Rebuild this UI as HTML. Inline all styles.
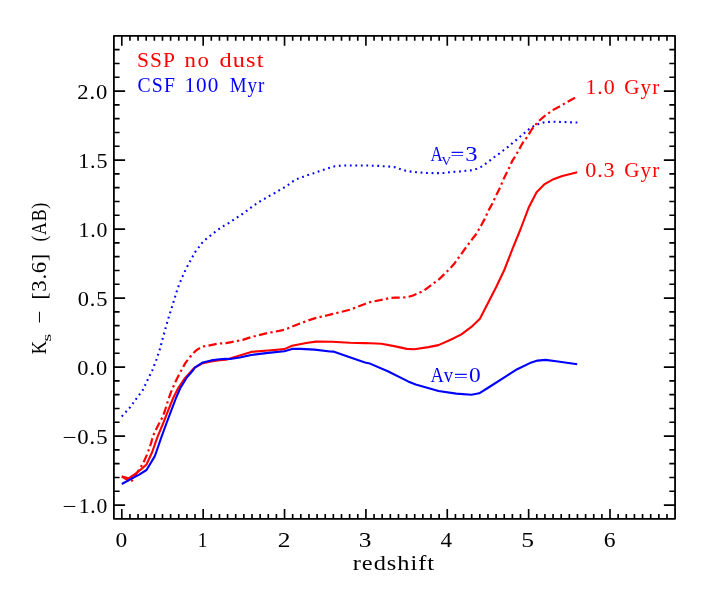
<!DOCTYPE html>
<html>
<head>
<meta charset="utf-8">
<title>Ks - [3.6] vs redshift</title>
<style>
html,body{margin:0;padding:0;background:#fff;}
body{width:709px;height:591px;overflow:hidden;}
svg{display:block;will-change:transform;}
text{font-family:"Liberation Serif",serif;font-size:20.0px;fill:#000;}
.r{fill:#f00;}
.b{fill:#00f;}
</style>
</head>
<body>
<svg width="709" height="591" viewBox="0 0 709 591">
<rect x="0" y="0" width="709" height="591" fill="#fff"/>
<g fill="none" stroke-linejoin="round">
<path d="M121.8 416.5 L130.0 407.4 L136.1 399.0 L142.7 390.2 L147.6 380.0 L152.3 370.4 L156.4 359.6 L159.8 349.4 L162.5 339.3 L165.5 328.4 L168.6 317.6 L172.0 306.8 L173.6 301.6 L176.7 291.5 L178.6 286.1 L180.6 281.1 L182.7 276.2 L185.1 270.9 L187.5 266.0 L190.1 261.3 L192.8 256.3 L195.5 251.6 L198.9 247.1 L202.0 242.9 L206.0 239.1 L210.4 235.6 L214.8 232.2 L219.2 228.8 L223.9 225.8 L228.7 223.1 L233.1 220.1 L237.8 217.0 L242.4 214.0 L247.0 210.6 L251.2 207.4 L255.8 204.1 L260.4 201.2 L265.2 198.4 L269.8 195.7 L274.8 193.0 L279.4 190.2 L284.3 187.3 L288.9 184.3 L293.1 181.2 L298.1 178.6 L303.3 176.7 L308.7 174.8 L313.7 173.2 L319.0 171.3 L324.3 169.5 L329.7 167.8 L334.7 166.3 L340.1 165.7 L345.9 165.5 L356.9 165.5 L368.0 165.5 L373.6 165.8 L379.1 165.9 L384.4 166.3 L389.8 166.6 L395.1 167.3 L400.3 169.1 L405.6 170.7 L410.9 171.6 L416.4 172.2 L422.1 172.6 L427.4 173.0 L433.5 173.1 L438.8 173.1 L444.1 172.9 L449.5 172.2 L454.9 171.8 L460.3 171.4 L465.7 170.8 L471.4 170.2 L476.8 168.8 L482.0 166.4 L486.7 163.0 L490.7 159.9 L495.1 156.5 L499.5 153.4 L503.9 150.0 L508.3 146.6 L512.3 143.2 L516.7 139.6 L520.9 136.0 L525.2 132.4 L529.5 128.7 L534.7 125.6 L539.4 123.6 L544.8 122.2 L550.3 121.8 L555.7 121.8 L566.5 122.1 L571.9 122.4 L577.3 122.5" stroke="#00f" stroke-width="2.1" stroke-dasharray="1.8 3.7"/>
<path d="M121.8 476.5 L131.0 482.2 L138.1 471.0 L141.4 465.8 L144.5 460.4 L147.5 453.3 L151.1 443.2 L152.6 437.1 L154.4 432.8 L157.4 426.7 L162.5 417.1 L165.0 410.5 L168.1 400.3 L170.6 393.2 L172.4 388.8 L174.4 384.1 L176.7 379.2 L180.0 372.8 L182.5 368.2 L185.3 363.1 L189.4 357.8 L192.7 353.8 L196.8 349.9 L202.6 346.6 L207.8 345.7 L213.3 344.6 L218.0 343.6 L226.0 343.1 L230.0 342.3 L242.7 339.9 L251.2 337.1 L268.1 332.9 L284.3 329.9 L294.2 325.8 L306.9 320.9 L315.3 318.1 L327.6 315.2 L332.0 314.1 L349.8 309.8 L365.0 304.0 L370.0 302.2 L382.7 299.6 L390.0 298.0 L395.4 297.7 L400.8 297.6 L406.9 297.3 L413.0 295.5 L418.4 293.2 L424.5 290.2 L428.6 287.1 L433.3 283.5 L439.4 279.0 L442.8 275.6 L446.9 271.6 L450.9 267.5 L454.7 263.2 L458.4 258.0 L461.8 253.3 L465.2 248.5 L469.2 243.1 L473.3 237.7 L475.9 234.5 L479.9 227.7 L484.7 218.9 L488.7 210.1 L492.5 203.3 L496.2 195.2 L500.3 187.1 L503.6 179.0 L507.7 170.8 L510.7 164.6 L512.3 160.8 L515.7 155.7 L518.4 150.7 L522.5 143.2 L524.9 140.2 L527.9 135.8 L532.0 129.0 L538.1 121.6 L544.2 116.4 L548.0 113.7 L551.6 110.7 L559.1 106.7 L563.1 104.4 L567.2 101.9 L574.6 98.1 L577.2 96.8" stroke="#f00" stroke-width="2.2" stroke-dasharray="8.3 3.324 2.3 3.324"/>
<path d="M121.8 476.5 L128.7 478.3 L136.3 473.2 L142.4 468.1 L146.5 464.5 L152.2 452.0 L157.4 437.2 L163.3 423.0 L168.2 410.4 L173.2 398.0 L178.1 388.3 L184.9 378.2 L192.6 369.6 L194.5 367.9 L202.8 363.2 L211.2 361.4 L219.4 360.3 L226.0 359.7 L230.0 358.5 L251.2 351.9 L268.1 350.5 L284.3 349.1 L292.1 345.8 L306.2 343.0 L316.0 341.6 L332.0 341.8 L349.8 342.8 L365.0 343.1 L370.0 343.3 L381.4 343.8 L395.4 346.4 L406.8 348.9 L414.4 349.2 L428.4 347.1 L438.5 345.1 L451.2 339.5 L461.4 334.4 L471.4 326.9 L479.9 318.8 L488.0 302.9 L496.2 287.0 L504.3 270.0 L512.4 249.2 L520.6 229.0 L528.7 207.6 L536.6 192.2 L544.7 184.1 L553.5 179.2 L562.3 176.0 L570.4 173.9 L577.2 172.2" stroke="#f00" stroke-width="2.1"/>
<path d="M121.8 484.0 L131.2 478.8 L138.8 474.9 L146.5 470.0 L154.7 456.4 L156.3 452.0 L161.4 437.2 L166.2 424.0 L171.3 410.4 L176.2 397.5 L180.2 388.3 L186.4 378.2 L193.2 370.0 L194.7 367.7 L202.8 362.4 L211.2 360.4 L219.4 359.2 L226.0 358.9 L230.0 359.0 L239.9 357.5 L251.2 355.0 L268.1 352.9 L284.3 351.2 L292.1 348.9 L300.5 348.9 L314.6 349.6 L330.0 351.5 L333.3 351.6 L349.8 357.3 L365.0 362.4 L370.0 363.6 L387.8 371.2 L408.1 381.4 L415.7 384.4 L438.5 391.0 L456.3 393.6 L471.5 394.8 L479.2 393.3 L489.3 387.0 L502.0 378.9 L517.2 369.2 L529.9 363.1 L537.6 360.6 L545.5 359.9 L556.2 361.2 L566.8 362.7 L577.2 364.3" stroke="#00f" stroke-width="2.1"/>
</g>
<path d="M129.94 518.85v-4.80M129.94 35.90v4.80M138.07 518.85v-4.80M138.07 35.90v4.80M146.21 518.85v-4.80M146.21 35.90v4.80M154.35 518.85v-4.80M154.35 35.90v4.80M162.49 518.85v-4.80M162.49 35.90v4.80M170.62 518.85v-4.80M170.62 35.90v4.80M178.76 518.85v-4.80M178.76 35.90v4.80M186.90 518.85v-4.80M186.90 35.90v4.80M195.03 518.85v-4.80M195.03 35.90v4.80M203.17 518.85v-9.80M203.17 35.90v9.80M211.31 518.85v-4.80M211.31 35.90v4.80M219.44 518.85v-4.80M219.44 35.90v4.80M227.58 518.85v-4.80M227.58 35.90v4.80M235.72 518.85v-4.80M235.72 35.90v4.80M243.86 518.85v-4.80M243.86 35.90v4.80M251.99 518.85v-4.80M251.99 35.90v4.80M260.13 518.85v-4.80M260.13 35.90v4.80M268.27 518.85v-4.80M268.27 35.90v4.80M276.40 518.85v-4.80M276.40 35.90v4.80M284.54 518.85v-9.80M284.54 35.90v9.80M292.68 518.85v-4.80M292.68 35.90v4.80M300.81 518.85v-4.80M300.81 35.90v4.80M308.95 518.85v-4.80M308.95 35.90v4.80M317.09 518.85v-4.80M317.09 35.90v4.80M325.23 518.85v-4.80M325.23 35.90v4.80M333.36 518.85v-4.80M333.36 35.90v4.80M341.50 518.85v-4.80M341.50 35.90v4.80M349.64 518.85v-4.80M349.64 35.90v4.80M357.77 518.85v-4.80M357.77 35.90v4.80M365.91 518.85v-9.80M365.91 35.90v9.80M374.05 518.85v-4.80M374.05 35.90v4.80M382.18 518.85v-4.80M382.18 35.90v4.80M390.32 518.85v-4.80M390.32 35.90v4.80M398.46 518.85v-4.80M398.46 35.90v4.80M406.60 518.85v-4.80M406.60 35.90v4.80M414.73 518.85v-4.80M414.73 35.90v4.80M422.87 518.85v-4.80M422.87 35.90v4.80M431.01 518.85v-4.80M431.01 35.90v4.80M439.14 518.85v-4.80M439.14 35.90v4.80M447.28 518.85v-9.80M447.28 35.90v9.80M455.42 518.85v-4.80M455.42 35.90v4.80M463.55 518.85v-4.80M463.55 35.90v4.80M471.69 518.85v-4.80M471.69 35.90v4.80M479.83 518.85v-4.80M479.83 35.90v4.80M487.97 518.85v-4.80M487.97 35.90v4.80M496.10 518.85v-4.80M496.10 35.90v4.80M504.24 518.85v-4.80M504.24 35.90v4.80M512.38 518.85v-4.80M512.38 35.90v4.80M520.51 518.85v-4.80M520.51 35.90v4.80M528.65 518.85v-9.80M528.65 35.90v9.80M536.79 518.85v-4.80M536.79 35.90v4.80M544.92 518.85v-4.80M544.92 35.90v4.80M553.06 518.85v-4.80M553.06 35.90v4.80M561.20 518.85v-4.80M561.20 35.90v4.80M569.34 518.85v-4.80M569.34 35.90v4.80M577.47 518.85v-4.80M577.47 35.90v4.80M585.61 518.85v-4.80M585.61 35.90v4.80M593.75 518.85v-4.80M593.75 35.90v4.80M601.88 518.85v-4.80M601.88 35.90v4.80M610.02 518.85v-9.80M610.02 35.90v9.80M618.16 518.85v-4.80M618.16 35.90v4.80M626.29 518.85v-4.80M626.29 35.90v4.80M634.43 518.85v-4.80M634.43 35.90v4.80M642.57 518.85v-4.80M642.57 35.90v4.80M650.70 518.85v-4.80M650.70 35.90v4.80M658.84 518.85v-4.80M658.84 35.90v4.80M666.98 518.85v-4.80M666.98 35.90v4.80M121.80 518.85v-9.80M121.80 35.90v9.80M113.90 505.05h11.20M675.05 505.05h-11.20M113.90 491.25h5.70M675.05 491.25h-5.70M113.90 477.45h5.70M675.05 477.45h-5.70M113.90 463.65h5.70M675.05 463.65h-5.70M113.90 449.85h5.70M675.05 449.85h-5.70M113.90 436.05h11.20M675.05 436.05h-11.20M113.90 422.25h5.70M675.05 422.25h-5.70M113.90 408.45h5.70M675.05 408.45h-5.70M113.90 394.65h5.70M675.05 394.65h-5.70M113.90 380.85h5.70M675.05 380.85h-5.70M113.90 367.05h11.20M675.05 367.05h-11.20M113.90 353.25h5.70M675.05 353.25h-5.70M113.90 339.45h5.70M675.05 339.45h-5.70M113.90 325.65h5.70M675.05 325.65h-5.70M113.90 311.85h5.70M675.05 311.85h-5.70M113.90 298.05h11.20M675.05 298.05h-11.20M113.90 284.25h5.70M675.05 284.25h-5.70M113.90 270.45h5.70M675.05 270.45h-5.70M113.90 256.65h5.70M675.05 256.65h-5.70M113.90 242.85h5.70M675.05 242.85h-5.70M113.90 229.05h11.20M675.05 229.05h-11.20M113.90 215.25h5.70M675.05 215.25h-5.70M113.90 201.45h5.70M675.05 201.45h-5.70M113.90 187.65h5.70M675.05 187.65h-5.70M113.90 173.85h5.70M675.05 173.85h-5.70M113.90 160.05h11.20M675.05 160.05h-11.20M113.90 146.25h5.70M675.05 146.25h-5.70M113.90 132.45h5.70M675.05 132.45h-5.70M113.90 118.65h5.70M675.05 118.65h-5.70M113.90 104.85h5.70M675.05 104.85h-5.70M113.90 91.05h11.20M675.05 91.05h-11.20M113.90 77.25h5.70M675.05 77.25h-5.70M113.90 63.45h5.70M675.05 63.45h-5.70M113.90 49.65h5.70M675.05 49.65h-5.70" fill="none" stroke="#000" stroke-width="1.65"/>
<rect x="113.9" y="35.9" width="561.15" height="482.95" fill="none" stroke="#000" stroke-width="1.8" stroke-linejoin="round"/>
<text class="r" transform="translate(136.98 67.00) scale(1.073 1)" textLength="35.50" lengthAdjust="spacing">SSP</text>
<text class="r" transform="translate(184.55 67.00) scale(1.142 1)" textLength="21.28" lengthAdjust="spacing">no</text>
<text class="r" transform="translate(219.61 67.00) scale(1.220 1)" textLength="35.94" lengthAdjust="spacing">dust</text>
<text class="b" transform="translate(137.59 92.00) scale(0.984 1)" textLength="37.86" lengthAdjust="spacing">CSF</text>
<text class="b" transform="translate(184.48 92.00) scale(1.059 1)" textLength="31.91" lengthAdjust="spacing">100</text>
<text class="b" transform="translate(229.64 92.00) scale(0.950 1)" textLength="36.64" lengthAdjust="spacing">Myr</text>
<text class="r" transform="translate(585.59 94.00) scale(1.091 1)" textLength="26.60" lengthAdjust="spacing">1.0</text>
<text class="r" transform="translate(624.32 94.00) scale(1.053 1)" textLength="33.09" lengthAdjust="spacing">Gyr</text>
<text class="r" transform="translate(585.28 177.00) scale(1.106 1)" textLength="26.60" lengthAdjust="spacing">0.3</text>
<text class="r" transform="translate(624.32 177.00) scale(1.053 1)" textLength="33.09" lengthAdjust="spacing">Gyr</text>
<text class="b" transform="translate(430.49 161.00) scale(0.846 1)">A</text>
<text class="b" style="font-size:12.8px" transform="translate(441.41 164.70) scale(1.036 1)">V</text>
<text class="b" stroke="#00f" stroke-width="0.6" transform="translate(450.83 159.00) scale(1.166 0.7)">=</text>
<text class="b" transform="translate(465.30 161.00) scale(1.229 1)">3</text>
<text class="b" transform="translate(430.40 382.00) scale(0.926 1)" textLength="24.42" lengthAdjust="spacing">Av</text>
<text class="b" stroke="#00f" stroke-width="0.6" transform="translate(454.15 381.00) scale(1.171 0.7)">=</text>
<text class="b" transform="translate(469.07 382.00) scale(1.171 1)">0</text>
<text transform="translate(77.23 99.00) scale(1.131 1)" textLength="26.60" lengthAdjust="spacing">2.0</text>
<text transform="translate(78.16 168.00) scale(1.105 1)" textLength="26.60" lengthAdjust="spacing">1.5</text>
<text transform="translate(78.39 237.00) scale(1.091 1)" textLength="26.60" lengthAdjust="spacing">1.0</text>
<text transform="translate(77.64 306.00) scale(1.123 1)" textLength="26.60" lengthAdjust="spacing">0.5</text>
<text transform="translate(77.32 375.00) scale(1.122 1)" textLength="26.60" lengthAdjust="spacing">0.0</text>
<text transform="translate(62.50 444.00) scale(1.248 1)">−</text>
<text transform="translate(77.27 444.00) scale(1.137 1)" textLength="26.60" lengthAdjust="spacing">0.5</text>
<text transform="translate(62.50 513.00) scale(1.248 1)">−</text>
<text transform="translate(78.66 513.00) scale(1.080 1)" textLength="26.60" lengthAdjust="spacing">1.0</text>
<text transform="translate(115.55 547.00) scale(1.175 1)">0</text>
<text transform="translate(197.76 547.00) scale(0.963 1)">1</text>
<text transform="translate(277.82 547.00) scale(1.274 1)">2</text>
<text transform="translate(358.83 547.00) scale(1.268 1)">3</text>
<text transform="translate(440.50 547.00) scale(1.158 1)">4</text>
<text transform="translate(521.24 547.00) scale(1.280 1)">5</text>
<text transform="translate(603.74 547.00) scale(1.179 1)">6</text>
<text transform="translate(352.78 570.00) scale(1.220 1)" textLength="66.68" lengthAdjust="spacing">redshift</text>
<text transform="translate(46.00 0) rotate(-90) translate(-354.22 0) scale(0.923 1)">K</text>
<text style="font-size:13.3px" transform="translate(51.20 0) rotate(-90) translate(-341.61 0) scale(1.485 1)">s</text>
<text transform="translate(46.00 0) rotate(-90) translate(-323.68 0) scale(1.175 1)">−</text>
<text transform="translate(46.00 0) rotate(-90) translate(-299.87 0) scale(1.134 1)" textLength="40.77" lengthAdjust="spacing">[3.6]</text>
<text transform="translate(46.00 0) rotate(-90) translate(-241.60 0) scale(0.889 1)" textLength="43.73" lengthAdjust="spacing">(AB)</text>
</svg>
</body>
</html>
